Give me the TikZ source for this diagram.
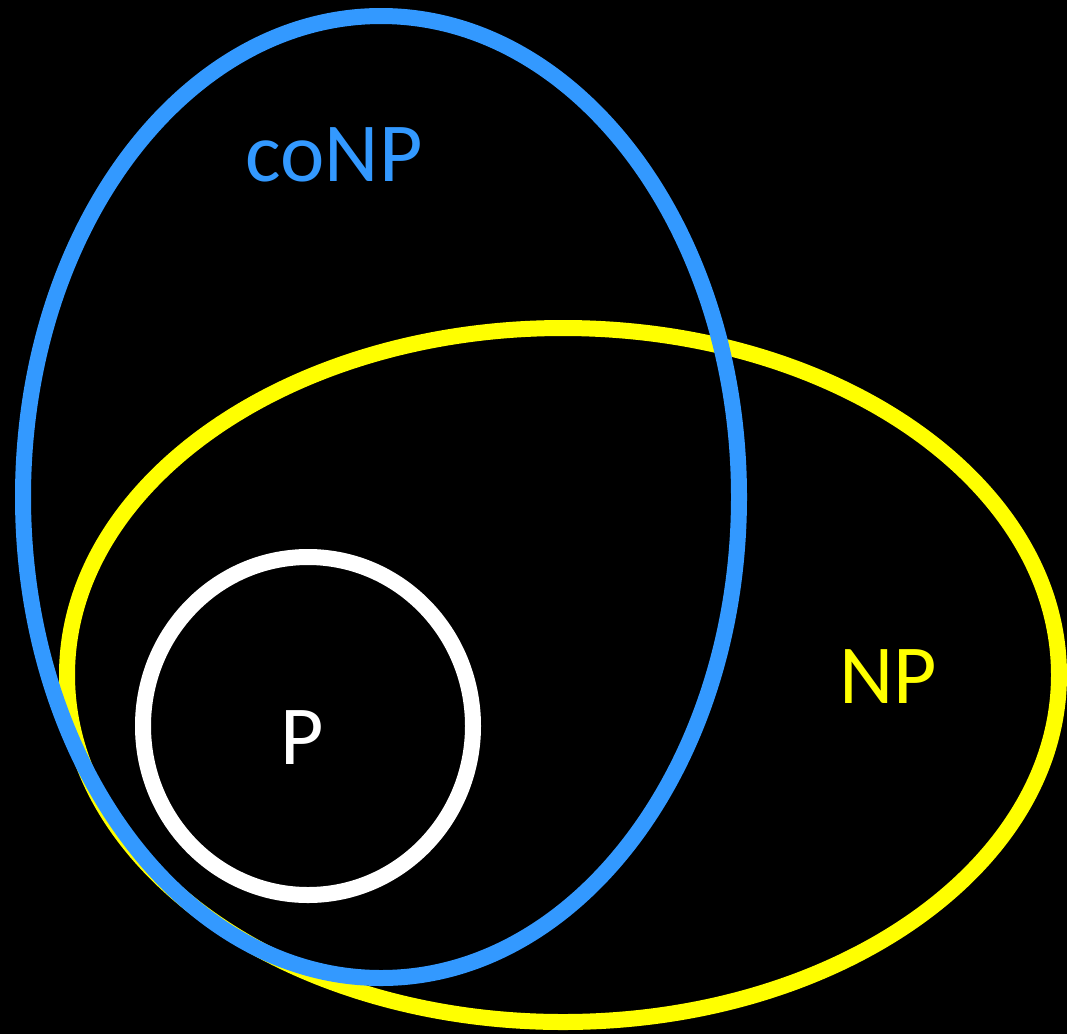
\documentclass[tikz,border=0pt]{standalone}
\usepackage{fontspec}
\setmainfont{Carlito}
\definecolor{setblue}{RGB}{51,153,255}
\definecolor{setyellow}{RGB}{255,255,0}
\begin{document}
\begin{tikzpicture}[x=1pt,y=-1pt,
  setline/.style={line width=16pt},
  setlabel/.style={anchor=base,inner sep=0pt,font=\fontsize{84}{90}\selectfont}]
\fill[black] (0,0) rectangle (1067,1034);
\useasboundingbox (0,0) rectangle (1067,1034);
\draw[setline,setyellow] (563,675) ellipse [x radius=496, y radius=347];
\draw[setline,white] (308,726) ellipse [x radius=165, y radius=169];
\draw[setline,setblue] (381,497) ellipse [x radius=358, y radius=481];
\node[setlabel,text=setblue] (conp) at (334,181) {coNP};
\node[setlabel,text=setyellow] (np) at (888,703) {NP};
\node[setlabel,text=white] (p) at (302,764) {P};
\end{tikzpicture}
\end{document}
